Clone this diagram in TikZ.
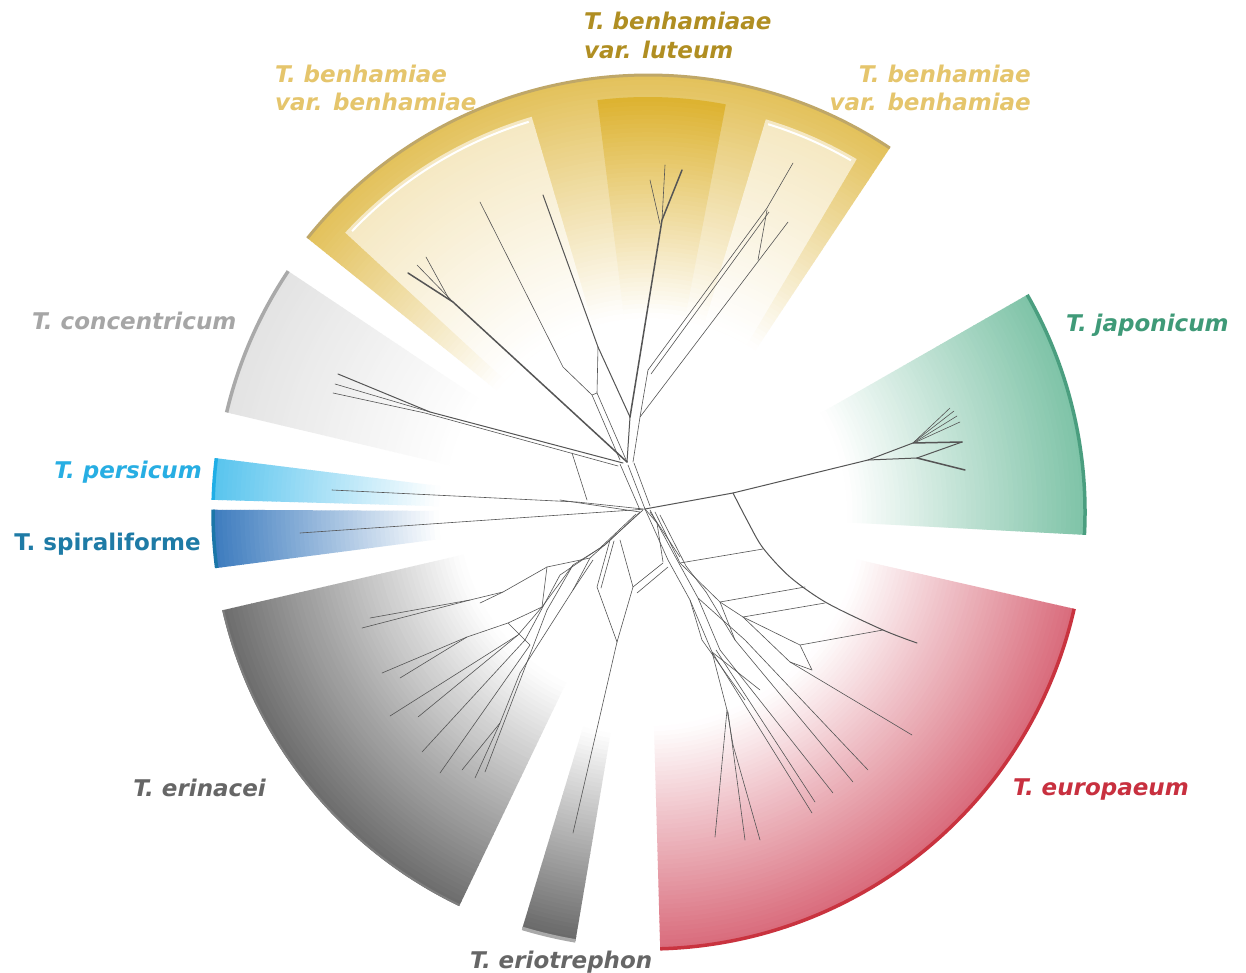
\documentclass[tikz,border=0pt]{standalone}
\usepackage{fontspec}
\setmainfont{DejaVu Sans}
\definecolor{japc}{HTML}{7EC3A7}\definecolor{japr}{HTML}{4A9E7F}
\definecolor{eurc}{HTML}{D96B7B}\definecolor{eurr}{HTML}{C9333F}
\definecolor{erinc}{HTML}{6C6C6C}\definecolor{erinr}{HTML}{7E7E7E}
\definecolor{erioc}{HTML}{686868}\definecolor{erior}{HTML}{A9A9A9}
\definecolor{spirc}{HTML}{3C7BBE}\definecolor{spirr}{HTML}{1B76A8}
\definecolor{persc}{HTML}{58C4EE}\definecolor{persr}{HTML}{1FAEE6}
\definecolor{concc}{HTML}{E3E3E3}\definecolor{concr}{HTML}{A9A9A9}
\definecolor{yelc}{HTML}{E3C15A}\definecolor{yelr}{HTML}{BFA768}
\definecolor{lutc}{HTML}{DDB22F}\definecolor{cream}{HTML}{F5E8C2}
\definecolor{lbenh}{HTML}{E5C56C}\definecolor{llut}{HTML}{B08E22}
\definecolor{lconc}{HTML}{A6A6A6}\definecolor{lpers}{HTML}{27AEE3}
\definecolor{lspir}{HTML}{1E7BA6}\definecolor{ljap}{HTML}{3F9A78}
\definecolor{leur}{HTML}{C8303F}\definecolor{lerin}{HTML}{666666}
\definecolor{netc}{HTML}{555555}
% gradient wedge made of rings: #1 start angle, #2 end angle, #3 inner (white) radius, #4 outer radius, #5 colour
\newcommand\gwedge[5]{%
  \foreach \k in {0,...,49}{%
    \pgfmathsetmacro\ro{#4-\k*(#4-#3)/50}%
    \pgfmathsetmacro\ri{\ro-(#4-#3)/50-0.7}%
    \pgfmathsetmacro\pp{100*(1-(\k+0.5)/50)}%
    \fill[#5!\pp!white] (#1:\ro) arc[start angle=#1,end angle=#2,radius=\ro]
      -- (#2:\ri) arc[start angle=#2,end angle=#1,radius=\ri] -- cycle;
  }}
\newcommand\rimarc[5]{\draw[#4,line width=#5] (#1:#3) arc[start angle=#1,end angle=#2,radius=#3];}
\begin{document}
\begin{tikzpicture}[x=1pt,y=1pt,yscale=-1,
  net/.style={draw=netc,line width=0.6pt,line join=round,line cap=round},
  med/.style={line width=1pt},
  thk/.style={line width=1.5pt},
  lab/.style={font=\fontsize{23}{27}\selectfont\bfseries\itshape,inner sep=0pt},
  labup/.style={font=\fontsize{23}{27}\selectfont\bfseries,inner sep=0pt}]
\useasboundingbox (0,0) rectangle (1246,973);
\fill[white] (0,0) rectangle (1246,973);

% ---------------- wedges ----------------
\begin{scope}[shift={(648,512)}]
  % japonicum
  \gwedge{-29.8}{3}{200}{437}{japc}
  \rimarc{-29.8}{3}{437}{japr}{3.5pt}
  % europaeum
  \gwedge{12.8}{88.4}{215}{437}{eurc}
  \rimarc{12.8}{88.4}{437}{eurr}{3.5pt}
  % eriotrephon
  \gwedge{99.6}{106.8}{225}{435}{erioc}
  \rimarc{99.6}{106.8}{435}{erior}{3.5pt}
  % erinacei
  \gwedge{115.6}{167}{190}{437}{erinc}
  \rimarc{115.6}{167}{436}{erinr}{2pt}
  % spiraliforme
  \gwedge{172.6}{180.3}{210}{435}{spirc}
  \rimarc{172.6}{180.3}{435}{spirr}{3.5pt}
  % persicum
  \gwedge{181.6}{187.1}{210}{435}{persc}
  \rimarc{181.6}{187.1}{435}{persr}{3.5pt}
  % concentricum
  \gwedge{193.3}{213.8}{200}{433}{concc}
  \rimarc{193.3}{213.8}{433}{concr}{3.5pt}
  % benhamiae (yellow)
  \gwedge{218.8}{303.6}{195}{437}{yelc}
  \gwedge{222.7}{253.6}{195}{412}{cream}
  \gwedge{263}{280.8}{195}{415}{lutc}
  \gwedge{286.7}{300.6}{195}{410}{cream}
  \rimarc{223.5}{253}{408}{white}{2pt}
  \rimarc{287.2}{300}{406}{white}{2pt}
  \rimarc{218.8}{303.6}{437}{yelr}{3pt}
\end{scope}

% ---------------- network ----------------
\begin{scope}[net]
% luteum
\draw[thk] (630,417) -- (662,220) -- (682,170);
\draw (662,220) -- (665,165);
\draw (660,224) -- (650,180);
\draw[med] (627,462) -- (630,417);
\draw (633,462) -- (640,417) -- (648,370);
% left long benhamiae lines
\draw[med] (543,195) -- (598,347) -- (630,417);
\draw (598,347) -- (597,393) -- (627,462);
\draw (480,202) -- (563,367) -- (592,395) -- (620,460);
\draw (592,395) -- (597,393);
% right benhamiae
\draw (648,370) -- (767,208) -- (793,163);
\draw (651,374) -- (769,212);
\draw (767,210) -- (758,260);
\draw (640,417) -- (788,222);
% left benhamiae
\draw[thk] (627,462) -- (453,302) -- (408,273);
\draw (453,302) -- (417,265);
\draw (449,299) -- (426,257);
% concentricum
\draw[med] (338,374) -- (430,412) -- (623,463);
\draw (335,384) -- (430,412);
\draw (333,393) -- (425,413) -- (618,466);
\draw (572,453) -- (587,500);
% persicum / spiraliforme
\draw (332,490) -- (577,502) -- (643,509);
\draw (560,500) -- (640,512);
\draw (300,533) -- (633,510) -- (645,509);
% hub
\draw (628,465) -- (645,509);
\draw (634,463) -- (650,506);
\draw (620,464) -- (640,510);
% japonicum
\draw[med] (645,509) -- (733,493) -- (868,460) -- (913,443);
\draw[thk] (913,443) -- (962,442);
\draw[med] (962,442) -- (917,458);
\draw[med] (868,460) -- (917,458);
\draw[thk] (917,458) -- (965,470);
\draw (913,443) -- (950,408);
\draw (914,442) -- (954,411);
\draw (915,442) -- (957,416);
\draw (916,442) -- (960,422);
% europaeum boundary curve and rungs
\draw[med] plot[smooth] coordinates {(733,493) (748,522) (763,548) (790,577) (827,603) (883,630) (917,643)};
\draw (680,563) -- (763,549);
\draw (720,602) -- (805,587);
\draw (743,617) -- (825,603);
\draw (800,645) -- (883,630);
% europaeum trunks
\draw (655,512) -- (680,563) -- (720,602) -- (743,617) -- (800,645) -- (812,670);
\draw (645,509) -- (668,560) -- (690,600) -- (712,652) -- (727,710) -- (733,745);
\draw (650,510) -- (676,558) -- (698,598) -- (720,650);
\draw (660,515) -- (686,566) -- (706,592) -- (735,640);
\draw (698,598) -- (745,640);
\draw (720,602) -- (735,640);
\draw (743,617) -- (790,662);
\draw (812,670) -- (790,662);
\draw (690,600) -- (702,640) -- (745,700);
\draw (712,652) -- (760,690);
% europaeum tips
\draw (727,710) -- (715,837);
\draw (728,712) -- (745,840);
\draw (733,745) -- (760,840);
\draw (712,652) -- (812,813);
\draw (716,650) -- (815,802);
\draw (720,650) -- (833,793);
\draw (735,640) -- (853,782);
\draw (745,640) -- (868,770);
\draw (790,662) -- (912,735);
% erinacei
\draw (643,510) -- (610,540) -- (590,558) -- (547,567) -- (503,592) -- (470,600) -- (370,618);
\draw (470,600) -- (362,628);
\draw (503,592) -- (480,603);
\draw (640,512) -- (605,545) -- (573,565) -- (542,607) -- (508,623) -- (467,637) -- (382,673);
\draw (467,637) -- (400,678);
\draw (542,607) -- (518,635) -- (390,716);
\draw (518,635) -- (418,717);
\draw (525,640) -- (422,752);
\draw (530,645) -- (440,773);
\draw (593,560) -- (573,590) -- (520,673) -- (500,723) -- (462,770);
\draw (500,723) -- (475,778);
\draw (547,610) -- (485,772);
\draw (590,558) -- (573,590);
\draw (573,565) -- (547,610);
\draw (547,567) -- (542,607);
\draw (636,514) -- (600,548) -- (560,575) -- (525,640);
\draw (508,623) -- (530,645);
% eriotrephon diamond
\draw (610,540) -- (597,587) -- (617,642);
\draw (614,541) -- (601,588);
\draw (620,540) -- (633,587) -- (617,642);
\draw (617,642) -- (573,833);
\draw (633,587) -- (663,563);
\draw (637,593) -- (668,567);
\draw (645,509) -- (657,523) -- (663,562);
\draw (650,512) -- (680,557);
\end{scope}

% ---------------- labels ----------------
\node[lab,text=lbenh,anchor=base west] at (275,83) {T. benhamiae};
\node[lab,text=lbenh,anchor=base west] at (275,111) {var. benhamiae};
\node[lab,text=llut,anchor=base west] at (584,30) {T. benhamiaae};
\node[lab,text=llut,anchor=base west] at (584,59) {var. luteum};
\node[lab,text=lbenh,anchor=base east] at (1031,83) {T. benhamiae};
\node[lab,text=lbenh,anchor=base east] at (1031,111) {var. benhamiae};
\node[lab,text=lconc,anchor=base west] at (32,329) {T. concentricum};
\node[lab,text=lpers,anchor=base east] at (202,478) {T. persicum};
\node[labup,text=lspir,anchor=base east] at (201,550) {T. spiraliforme};
\node[lab,text=ljap,anchor=base west] at (1066,331) {T. japonicum};
\node[lab,text=leur,anchor=base west] at (1013,795) {T. europaeum};
\node[lab,text=lerin,anchor=base east] at (266,796) {T. erinacei};
\node[lab,text=lerin,anchor=base west] at (470,968) {T. eriotrephon};
\end{tikzpicture}
\end{document}
